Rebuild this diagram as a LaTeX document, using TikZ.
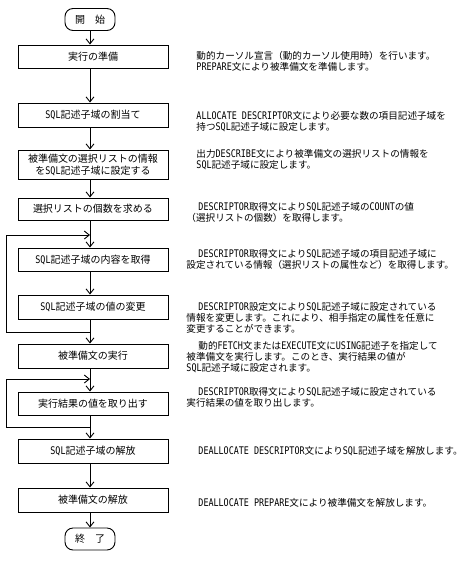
\documentclass[tikz,border=0pt]{standalone}
\usepackage{fontspec}
\setmainfont{Noto Sans CJK JP}
\newfontfamily\latfont[FakeStretch=0.8]{DejaVu Sans Mono}
\newcommand\Lt[1]{{\latfont\fontsize{10.5}{11.3}\selectfont #1}}
\usetikzlibrary{arrows.meta}
\begin{document}
\begin{tikzpicture}[x=1pt,y=-1pt,line width=0.9pt,
  box/.style={draw,minimum width=150pt,inner sep=0pt,align=center,font=\fontsize{10}{12}\selectfont},
  term/.style={draw,rounded corners=8pt,minimum width=50pt,minimum height=22pt,inner sep=0pt,font=\fontsize{10}{12}\selectfont},
  desc/.style={anchor=north west,inner sep=0pt,align=left,font=\fontsize{9.6}{11.3}\selectfont},
  flow/.style={-{Straight Barb[length=5pt,width=8pt]}}]
\useasboundingbox (0,0) rectangle (468,566);
\coordinate (ax) at (90,0);
\coordinate (lx) at (6,0);
\node[term] (start) at (90,19.5) {開　始};
\node[box,minimum height=23pt] (b1) at (93,56.5) {実行の準備};
\node[box,minimum height=24pt] (b2) at (93,115) {\Lt{SQL}記述子域の割当て};
\node[box,minimum height=29pt] (b3) at (93,164.5) {被準備文の選択リストの情報\\を\Lt{SQL}記述子域に設定する};
\node[box,minimum height=22pt] (b4) at (93,209) {選択リストの個数を求める};
\node[box,minimum height=23pt] (b5) at (93,259.5) {\Lt{SQL}記述子域の内容を取得};
\node[box,minimum height=24pt] (b6) at (93,307) {\Lt{SQL}記述子域の値の変更};
\node[box,minimum height=24pt] (b7) at (93,356) {被準備文の実行};
\node[box,minimum height=23pt] (b8) at (93,403.5) {実行結果の値を取り出す};
\node[box,minimum height=24pt] (b9) at (93,451) {\Lt{SQL}記述子域の解放};
\node[box,minimum height=24pt] (b10) at (93,500) {被準備文の解放};
\node[term] (end) at (90,539) {終　了};
\coordinate (l1top) at (90,235);
\coordinate (l1bot) at (90,332);
\coordinate (l2top) at (90,379);
\coordinate (l2bot) at (90,427);
\draw[flow] (start) -- (b1.north -| ax);
\draw[flow] (b1.south -| ax) -- (b2.north -| ax);
\draw[flow] (b2.south -| ax) -- (b3.north -| ax);
\draw[flow] (b3.south -| ax) -- (b4.north -| ax);
\draw[flow] (b4.south -| ax) -- (b5.north -| ax);
\draw[flow] (b5.south -| ax) -- (b6.north -| ax);
\draw[flow] (b6.south -| ax) -- (b7.north -| ax);
\draw[flow] (b7.south -| ax) -- (b8.north -| ax);
\draw[flow] (b8.south -| ax) -- (b9.north -| ax);
\draw[flow] (b9.south -| ax) -- (b10.north -| ax);
\draw[flow] (b10.south -| ax) -- (end);
\draw[flow] (l1bot) -- (lx |- l1bot) -- (lx |- l1top) -- (l1top);
\draw[flow] (l2bot) -- (lx |- l2bot) -- (lx |- l2top) -- (l2top);
\node[desc] (t1) at (196,50.5) {動的カーソル宣言（動的カーソル使用時）を行います。\\\Lt{PREPARE}文により被準備文を準備します。};
\node[desc] (t2) at (196,110.5) {\Lt{ALLOCATE DESCRIPTOR}文により必要な数の項目記述子域を\\持つ\Lt{SQL}記述子域に設定します。};
\node[desc] (t3) at (196,148.5) {出力\Lt{DESCRIBE}文により被準備文の選択リストの情報を\\\Lt{SQL}記述子域に設定します。};
\node[desc] (t4) at (186,201.5) {\hspace*{12pt}\Lt{DESCRIPTOR}取得文により\Lt{SQL}記述子域の\Lt{COUNT}の値\\（選択リストの個数）を取得します。};
\node[desc] (t5) at (186,248.5) {\hspace*{12pt}\Lt{DESCRIPTOR}取得文により\Lt{SQL}記述子域の項目記述子域に\\設定されている情報（選択リストの属性など）を取得します。};
\node[desc] (t6) at (186,301.5) {\hspace*{12pt}\Lt{DESCRIPTOR}設定文により\Lt{SQL}記述子域に設定されている\\情報を変更します。これにより、相手指定の属性を任意に\\変更することができます。};
\node[desc] (t7) at (186,340.5) {\hspace*{12pt}動的\Lt{FETCH}文または\Lt{EXECUTE}文に\Lt{USING}記述子を指定して\\被準備文を実行します。このとき、実行結果の値が\\\Lt{SQL}記述子域に設定されます。};
\node[desc] (t8) at (186,386.5) {\hspace*{12pt}\Lt{DESCRIPTOR}取得文により\Lt{SQL}記述子域に設定されている\\実行結果の値を取り出します。};
\node[desc] (t9) at (186,445.5) {\hspace*{12pt}\Lt{DEALLOCATE DESCRIPTOR}文により\Lt{SQL}記述子域を解放します。};
\node[desc] (t10) at (186,497.5) {\hspace*{12pt}\Lt{DEALLOCATE PREPARE}文により被準備文を解放します。};
\end{tikzpicture}
\end{document}
